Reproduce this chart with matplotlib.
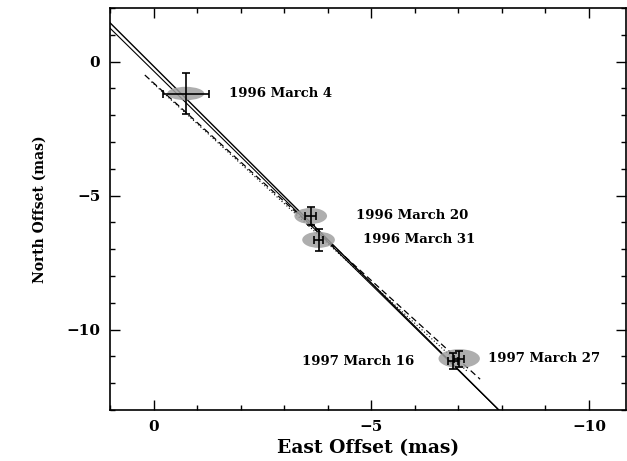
"""
VLBI proper motion plot: north vs east offset per epoch
"""
import matplotlib
matplotlib.use("Agg")
import matplotlib.pyplot as plt
from matplotlib.patches import Ellipse
from matplotlib.ticker import MultipleLocator

# epochs and positions (mas)
labels = ["1996 March 4", "1996 March 20", "1996 March 31", "1997 March 16", "1997 March 27"]
east = [-0.74, -3.61, -3.79, -6.88, -7.02]
north = [-1.19, -5.76, -6.65, -11.18, -11.08]
east_err = [0.53, 0.12, 0.10, 0.12, 0.12]
north_err = [0.76, 0.33, 0.41, 0.30, 0.30]
# error ellipse sizes (full width / height, mas)
ell_w = [0.85, 0.75, 0.75, 0.0, 0.95]
ell_h = [0.50, 0.60, 0.60, 0.0, 0.70]

# fitted tracks (endpoints)
fit1_east = [1.0, -7.93]
fit1_north = [1.45, -13.0]
fit2_east = [1.0, -7.90]
fit2_north = [1.25, -12.95]
dash_east = [0.20, -7.50]
dash_north = [-0.50, -11.85]
dot_east = [0.05, -7.20]
dot_north = [-0.75, -11.55]

font = dict(family="DejaVu Serif", weight="bold")

fig = plt.figure(figsize=(6.27, 4.61), dpi=100)
ax = fig.add_axes([0.1754, 0.1106, 0.8230, 0.8720])

ax.plot(fit1_east, fit1_north, color="black", lw=1.0)
ax.plot(fit2_east, fit2_north, color="black", lw=0.8)
ax.plot(dash_east, dash_north, color="black", lw=0.9, ls=(0, (5, 3)))
ax.plot(dot_east, dot_north, color="black", lw=0.8, ls=(0, (1, 2)))

for x, y, w, h in zip(east, north, ell_w, ell_h):
    if w > 0:
        ax.add_patch(Ellipse((x, y), w, h, facecolor="#a0a0a0", edgecolor="none", alpha=0.85, zorder=2))

ax.errorbar(east, north, xerr=east_err, yerr=north_err, fmt="none", ecolor="black",
            elinewidth=1.2, capsize=3, capthick=1.2, zorder=3)

offsets = [(43, 0, "left"), (45, 0, "left"), (44, 0, "left"), (-39, 0, "right"), (29, 0, "left")]
for lab, x, y, (dx, dy, ha) in zip(labels, east, north, offsets):
    ax.annotate(lab, (x, y), xytext=(dx, dy), textcoords="offset pixels", ha=ha, va="center",
                fontsize=9.5, **font)

ax.set_xlim(1.0, -10.85)
ax.set_ylim(-13, 2)
ax.xaxis.set_major_locator(MultipleLocator(5))
ax.xaxis.set_minor_locator(MultipleLocator(1))
ax.yaxis.set_major_locator(MultipleLocator(5))
ax.yaxis.set_minor_locator(MultipleLocator(1))
ax.tick_params(which="both", direction="in", top=True, right=True, width=1.0)
ax.tick_params(which="major", length=7, labelsize=11, pad=7)
ax.tick_params(which="minor", length=3.5)
for t in ax.get_xticklabels() + ax.get_yticklabels():
    t.set_fontfamily("DejaVu Serif")
    t.set_fontweight("bold")
for s in ax.spines.values():
    s.set_linewidth(1.2)

ax.set_xlabel("East Offset (mas)", fontsize=13.5, labelpad=4, **font)
ax.set_ylabel("North Offset (mas)", fontsize=10, labelpad=14, **font)

fig.savefig("out.png", dpi=100)
